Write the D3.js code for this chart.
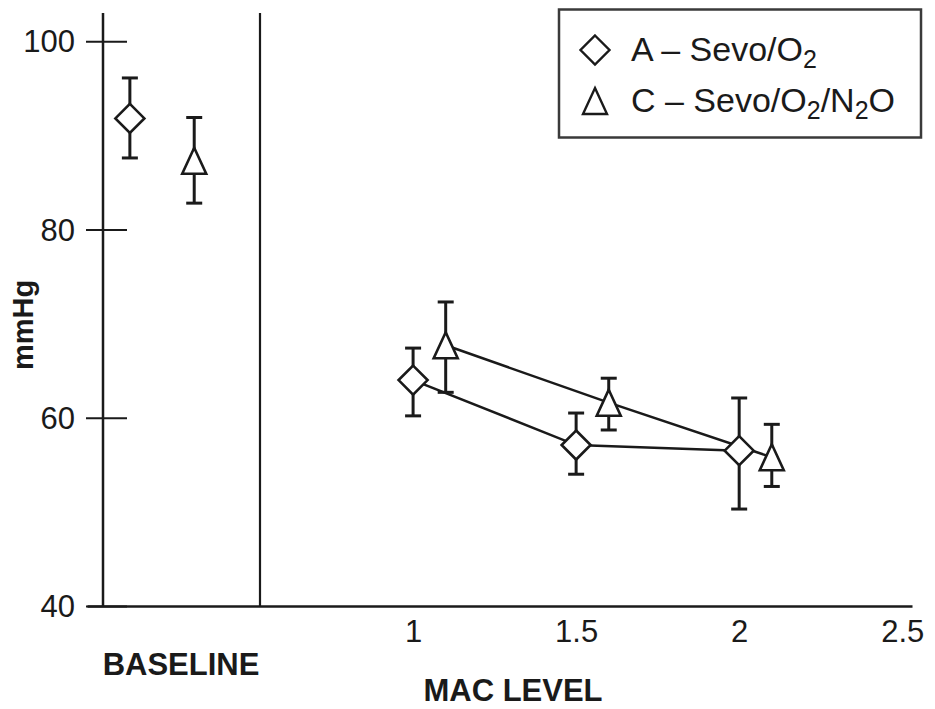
<!DOCTYPE html>
<html>
<head>
<meta charset="utf-8">
<script src="https://cdn.jsdelivr.net/npm/d3@7"></script>
<style>
  html, body { margin: 0; padding: 0; background: #fff; }
  svg { display: block; }
  text { font-family: "Liberation Sans", Arial, Helvetica, sans-serif; fill: #1a1a1a; }
</style>
</head>
<body>
<svg id="chart" width="935" height="709"></svg>
<script>
// ---- data ----
const seriesNames = ["A – Sevo/O2", "C – Sevo/O2/N2O"];
const seriesKeys = ["A", "C"];
const macLevels = [1, 1.5, 2];
const macOffsetC = 0.1; // horizontal dodge for series C
// baseline
const baselineMean = [91.8, 87.3];
const baselineUpper = [96.1, 91.9];
const baselineLower = [87.6, 82.8];
// MAC series A (Sevo/O2)
const aMean = [64.0, 57.1, 56.5];
const aUpper = [67.4, 60.5, 62.1];
const aLower = [60.2, 54.0, 50.3];
// MAC series C (Sevo/O2/N2O)
const cMean = [67.7, 61.6, 55.8];
const cUpper = [72.3, 64.2, 59.3];
const cLower = [62.7, 58.7, 52.7];
const yTicks = [40, 60, 80, 100];
const xTicks = [1, 1.5, 2, 2.5];

// ---- layout ----
const svg = d3.select("#chart");
const ink = "#1a1a1a";
const axisX0 = 103, axisBottom = 606, axisTop = 13, sepX = 260;

const y = d3.scaleLinear().domain([40, 103]).range([axisBottom, axisTop]);
const x = d3.scaleLinear().domain([0, 2.53]).range([87, 912]);
const xb = d3.scalePoint().domain(seriesKeys).range([axisX0, sepX]).padding(0.72).align(0.29);

// y axis
const yAxis = svg.append("g").attr("transform", `translate(${axisX0},0)`)
  .call(d3.axisLeft(y).tickValues(yTicks).tickSize(17).tickPadding(11).tickFormat(d3.format("d")));
yAxis.select(".domain").remove();
yAxis.selectAll(".tick line").attr("x1", 24).attr("x2", -17).attr("stroke", ink).attr("stroke-width", 2.2);
yAxis.selectAll(".tick text").attr("font-size", 31).attr("fill", ink).attr("dy", "0.34em")
  .attr("x", -28).style("font-family", "'Liberation Sans', Arial, sans-serif");
svg.append("line").attr("x1", axisX0).attr("x2", axisX0).attr("y1", y(103)).attr("y2", axisBottom)
  .attr("stroke", ink).attr("stroke-width", 2.5);

// separator
svg.append("line").attr("x1", sepX).attr("x2", sepX).attr("y1", y(103)).attr("y2", axisBottom)
  .attr("stroke", ink).attr("stroke-width", 2.2);

// x axis
const xAxis = svg.append("g").attr("transform", `translate(0,${axisBottom})`)
  .call(d3.axisBottom(x).tickValues(xTicks).tickSize(0).tickPadding(14).tickFormat(d => String(d)));
xAxis.select(".domain").attr("stroke", ink).attr("stroke-width", 2.5);
xAxis.selectAll(".tick text").attr("font-size", 31).attr("fill", ink).attr("dy", "0.71em")
  .style("font-family", "'Liberation Sans', Arial, sans-serif");

// axis titles
svg.append("text").attr("x", 181).attr("y", 675).attr("text-anchor", "middle")
  .attr("font-size", 31).attr("font-weight", "bold").text("BASELINE");
svg.append("text").attr("x", 513).attr("y", 701).attr("text-anchor", "middle")
  .attr("font-size", 31).attr("font-weight", "bold").text("MAC LEVEL");
svg.append("text").attr("transform", "translate(33,325) rotate(-90)").attr("text-anchor", "middle")
  .attr("font-size", 29).attr("font-weight", "bold").text("mmHg");

// markers
function diamondPath(s) { return `M0,${-s}L${s},0L0,${s}L${-s},0Z`; }
function trianglePath(w, h) { return `M0,${-h/2}L${w/2},${h/2}L${-w/2},${h/2}Z`; }
const markerPath = { A: diamondPath(14.5), C: trianglePath(24, 26) };

// build point records
const points = [];
seriesKeys.forEach((k, i) => {
  points.push({ key: k, px: xb(k), mean: baselineMean[i], hi: baselineUpper[i], lo: baselineLower[i] });
});
macLevels.forEach((m, i) => {
  points.push({ key: "A", px: x(m), mean: aMean[i], hi: aUpper[i], lo: aLower[i] });
  points.push({ key: "C", px: x(m + macOffsetC), mean: cMean[i], hi: cUpper[i], lo: cLower[i] });
});

// connecting lines
const line = d3.line().x(d => d[0]).y(d => d[1]);
svg.append("path").attr("d", line(macLevels.map((m, i) => [x(m), y(aMean[i])])))
  .attr("fill", "none").attr("stroke", ink).attr("stroke-width", 2.5);
svg.append("path").attr("d", line(macLevels.map((m, i) => [x(m + macOffsetC), y(cMean[i])])))
  .attr("fill", "none").attr("stroke", ink).attr("stroke-width", 2.5);

// error bars
const eb = svg.append("g").attr("stroke", ink).attr("stroke-width", 3);
points.forEach(p => {
  eb.append("line").attr("x1", p.px).attr("x2", p.px).attr("y1", y(p.hi)).attr("y2", y(p.lo));
  eb.append("line").attr("x1", p.px - 8).attr("x2", p.px + 8).attr("y1", y(p.hi)).attr("y2", y(p.hi));
  eb.append("line").attr("x1", p.px - 8).attr("x2", p.px + 8).attr("y1", y(p.lo)).attr("y2", y(p.lo));
});

// symbols
svg.append("g").selectAll("path").data(points).join("path")
  .attr("transform", d => `translate(${d.px},${y(d.mean)})`)
  .attr("d", d => markerPath[d.key])
  .attr("fill", "#fff").attr("stroke", ink).attr("stroke-width", 2.6).attr("stroke-linejoin", "miter");

// legend
const lg = svg.append("g");
lg.append("rect").attr("x", 559).attr("y", 9.5).attr("width", 362).attr("height", 128)
  .attr("fill", "#fff").attr("stroke", "#3a3a3a").attr("stroke-width", 2.5);
const legendRows = [
  { key: "A", cy: 50, base: 61, parts: [["A – Sevo/O", false], ["2", true]] },
  { key: "C", cy: 101, base: 112, parts: [["C – Sevo/O", false], ["2", true], ["/N", false], ["2", true], ["O", false]] }
];
legendRows.forEach((r, i) => {
  lg.append("path").attr("transform", `translate(595,${r.cy})`).attr("d", markerPath[r.key])
    .attr("fill", "#fff").attr("stroke", ink).attr("stroke-width", 2.4);
  const t = lg.append("text").attr("x", 631).attr("y", r.base).attr("font-size", 34);
  t.selectAll("tspan").data(r.parts).join("tspan")
    .attr("font-size", d => d[1] ? 25 : 34)
    .attr("dy", (d, j) => {
      const prevSub = j > 0 && r.parts[j - 1][1];
      if (d[1] && !prevSub) return 7;
      if (!d[1] && prevSub) return -7;
      return 0;
    })
    .text(d => d[0]);
});
</script>
</body>
</html>
